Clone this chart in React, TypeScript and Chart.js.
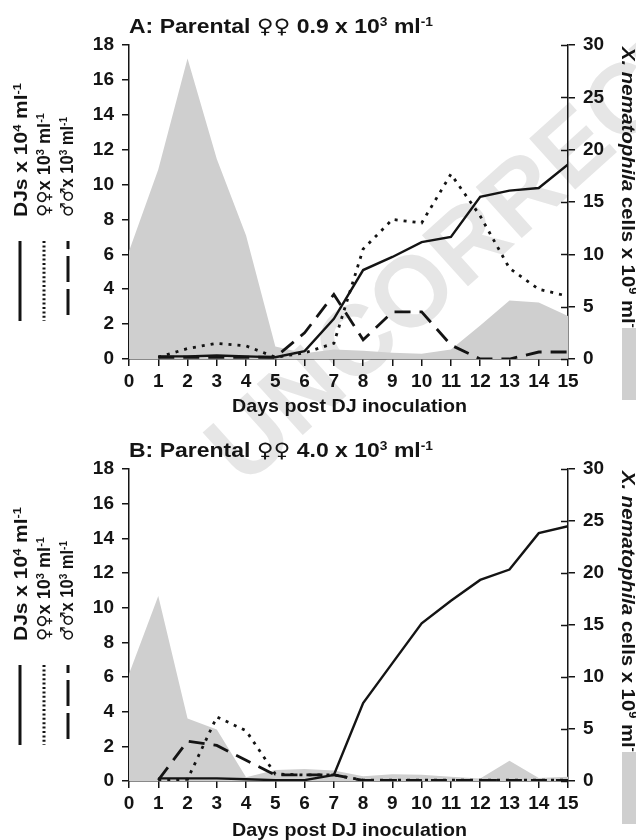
import React, { useEffect, useRef } from "react";
import { Chart, registerables } from "chart.js";

Chart.register(...registerables);

// ---------- data ----------
const days = [0, 1, 2, 3, 4, 5, 6, 7, 8, 9, 10, 11, 12, 13, 14, 15];
const leftTicks = [0, 2, 4, 6, 8, 10, 12, 14, 16, 18];
const rightTicks = [0, 5, 10, 15, 20, 25, 30];

// Panel A: parental females 0.9 x 10^3 ml-1
const aDJs = [null, 0.15, 0.15, 0.2, 0.15, 0.1, 0.45, 2.3, 5.1, 5.85, 6.7, 7.0, 9.3, 9.65, 9.8, 11.15];
const aFemales = [null, 0.1, 0.6, 0.9, 0.75, 0.1, 0.35, 0.9, 6.3, 8.0, 7.8, 10.6, 8.2, 5.2, 4.0, 3.6];
const aMales = [null, 0.1, 0.1, 0.1, 0.1, 0.1, 1.5, 3.7, 1.1, 2.7, 2.7, 0.8, 0, 0, 0.4, 0.4];
const aCells = [10.3, 18.1, 28.7, 19.1, 11.8, 1.2, 0.55, 0.9, 0.8, 0.6, 0.5, 0.9, 3.2, 5.6, 5.4, 4.1];

// Panel B: parental females 4.0 x 10^3 ml-1
const bDJs = [null, 0.15, 0.15, 0.15, 0.1, 0.05, 0.05, 0.35, 4.5, 6.8, 9.1, 10.4, 11.6, 12.2, 14.3, 14.7];
const bFemales = [null, 0.05, 0.1, 3.7, 2.9, 0.4, 0.35, 0.35, 0.05, 0.05, 0.05, 0.05, 0.05, 0.05, 0.05, 0.05];
const bMales = [null, 0.05, 2.3, 2.05, 1.2, 0.35, 0.35, 0.35, 0.03, 0.03, 0.03, 0.03, 0.03, 0.03, 0.03, 0.03];
const bCells = [10.3, 17.8, 6.0, 4.95, 0.35, 1.05, 1.15, 1.0, 0.45, 0.65, 0.6, 0.4, 0.25, 1.95, 0.3, 0.4];

// ---------- styling ----------
const FONT = '"Liberation Sans", Arial, Helvetica, sans-serif';
const SYMFONT = '"DejaVu Sans", sans-serif';
const INK = "#141414";
const AREA = "#cfcfcf";
const WATERMARK = "#e6e6e6";

type Run = { t: string; sup?: boolean; it?: boolean; sym?: boolean };

function runFont(size: number, r: Run) {
  if (r.sym) return `${Math.round(size * 1.0)}px ${SYMFONT}`;
  const s = r.sup ? Math.round(size * 0.62) : size;
  return `${r.it ? "italic " : ""}bold ${s}px ${FONT}`;
}

function measureRuns(ctx: CanvasRenderingContext2D, runs: Run[], size: number) {
  let w = 0;
  for (const r of runs) {
    ctx.font = runFont(size, r);
    w += ctx.measureText(r.t).width;
  }
  return w;
}

function drawRuns(
  ctx: CanvasRenderingContext2D,
  runs: Run[],
  x: number,
  y: number,
  size: number,
  rot: number,
  targetW?: number
) {
  const w = measureRuns(ctx, runs, size);
  const sx = targetW ? targetW / w : 1;
  ctx.save();
  ctx.translate(x, y);
  ctx.rotate(rot);
  ctx.scale(sx, 1);
  ctx.textAlign = "left";
  ctx.textBaseline = "alphabetic";
  ctx.fillStyle = INK;
  let cx = 0;
  for (const r of runs) {
    ctx.font = runFont(size, r);
    ctx.fillText(r.t, cx, r.sup ? -size * 0.36 : 0);
    cx += ctx.measureText(r.t).width;
  }
  ctx.restore();
}

interface Panel {
  letter: string;
  conc: string;
  djs: (number | null)[];
  fem: (number | null)[];
  male: (number | null)[];
  cells: number[];
  top: number;
  height: number;
  plotTop: number;
  plotBottom: number;
}

const panels: Panel[] = [
  { letter: "A", conc: "0.9", djs: aDJs, fem: aFemales, male: aMales, cells: aCells, top: 0, height: 424, plotTop: 45, plotBottom: 359 },
  { letter: "B", conc: "4.0", djs: bDJs, fem: bFemales, male: bMales, cells: bCells, top: 424, height: 416, plotTop: 45, plotBottom: 357 },
];

const toPts = (arr: (number | null)[]) => days.map((d, i) => ({ x: d, y: arr[i] }));

function makeDecor(p: Panel) {
  return {
    id: "decor" + p.letter,
    beforeDraw(chart: any) {
      const ctx: CanvasRenderingContext2D = chart.ctx;
      ctx.save();
      ctx.fillStyle = WATERMARK;
      ctx.font = `bold 100px ${FONT}`;
      const pre = ctx.measureText("UNC").width;
      const wo = ctx.measureText("O").width;
      ctx.translate(410, 290 - p.top);
      ctx.rotate((-42 * Math.PI) / 180);
      ctx.textAlign = "left";
      ctx.textBaseline = "alphabetic";
      ctx.fillText("UNCORRECTED PROOF", -(pre + wo / 2), 36);
      ctx.restore();
    },
    afterDraw(chart: any) {
      const ctx: CanvasRenderingContext2D = chart.ctx;
      const area = chart.chartArea;
      const y2 = chart.scales.y2;

      // inward tick marks on the right axis
      ctx.save();
      ctx.strokeStyle = INK;
      ctx.lineWidth = 1.5;
      for (const v of rightTicks) {
        const py = Math.round(y2.getPixelForValue(v)) + 0.5;
        ctx.beginPath();
        ctx.moveTo(area.right - 7, py);
        ctx.lineTo(area.right, py);
        ctx.stroke();
      }
      ctx.restore();

      // panel title
      drawRuns(
        ctx,
        [
          { t: p.letter + ": Parental " },
          { t: "♀♀", sym: true },
          { t: " " + p.conc + " x 10" },
          { t: "3", sup: true },
          { t: " ml" },
          { t: "-1", sup: true },
        ],
        129,
        33,
        20,
        0,
        304
      );

      // x axis title
      drawRuns(ctx, [{ t: "Days post DJ inoculation" }], 232, 412, 19, 0, 235);

      // left legend labels (rotated)
      const rotL = -Math.PI / 2;
      drawRuns(ctx, [{ t: "DJs x 10" }, { t: "4", sup: true }, { t: " ml" }, { t: "-1", sup: true }], 27, 217, 18, rotL, 134);
      drawRuns(ctx, [{ t: "♀♀", sym: true }, { t: "x 10" }, { t: "3", sup: true }, { t: " ml" }, { t: "-1", sup: true }], 50, 217, 18, rotL, 104);
      drawRuns(ctx, [{ t: "♂♂", sym: true }, { t: "x 10" }, { t: "3", sup: true }, { t: " ml" }, { t: "-1", sup: true }], 73, 217, 18, rotL, 100);

      // legend line samples
      ctx.save();
      ctx.strokeStyle = INK;
      ctx.lineWidth = 3;
      ctx.beginPath();
      ctx.moveTo(20, 241);
      ctx.lineTo(20, 321);
      ctx.stroke();
      ctx.setLineDash([2, 2.4]);
      ctx.beginPath();
      ctx.moveTo(44, 241);
      ctx.lineTo(44, 321);
      ctx.stroke();
      ctx.setLineDash([26, 7]);
      ctx.lineDashOffset = 18;
      ctx.beginPath();
      ctx.moveTo(68, 241);
      ctx.lineTo(68, 321);
      ctx.stroke();
      ctx.restore();

      // right axis title (rotated clockwise)
      drawRuns(
        ctx,
        [
          { t: "X. nematophila", it: true },
          { t: " cells x 10" },
          { t: "9", sup: true },
          { t: " ml" },
          { t: "-1", sup: true },
        ],
        622,
        47,
        19,
        Math.PI / 2,
        288
      );

      // grey legend swatch
      ctx.save();
      ctx.fillStyle = AREA;
      ctx.fillRect(622, 328, 14, 72);
      ctx.restore();
    },
  };
}

function PanelChart({ p }: { p: Panel }) {
  const ref = useRef<HTMLCanvasElement | null>(null);

  useEffect(() => {
    if (!ref.current) return;
    const tickFont = { family: FONT, size: 19, weight: "bold" as const };
    const chart = new Chart(ref.current, {
      type: "line",
      data: {
        datasets: [
          {
            label: "DJs",
            data: toPts(p.djs),
            yAxisID: "y",
            borderColor: INK,
            borderWidth: 2.4,
            pointRadius: 0,
            tension: 0,
            fill: false,
            order: 0,
          },
          {
            label: "females",
            data: toPts(p.fem),
            yAxisID: "y",
            borderColor: INK,
            borderWidth: 2.8,
            borderDash: [3, 6],
            pointRadius: 0,
            tension: 0,
            fill: false,
            order: 1,
          },
          {
            label: "males",
            data: toPts(p.male),
            yAxisID: "y",
            borderColor: INK,
            borderWidth: 2.8,
            borderDash: [16, 9],
            pointRadius: 0,
            tension: 0,
            fill: false,
            order: 2,
          },
          {
            label: "X. nematophila",
            data: toPts(p.cells),
            yAxisID: "y2",
            borderColor: "rgba(0,0,0,0)",
            borderWidth: 0,
            backgroundColor: AREA,
            pointRadius: 0,
            tension: 0,
            fill: "origin",
            order: 10,
          },
        ] as any,
      },
      options: {
        animation: false,
        responsive: false,
        maintainAspectRatio: false,
        devicePixelRatio: 1,
        events: [],
        layout: { padding: { top: p.plotTop, left: 0, right: 0, bottom: 0 } },
        plugins: {
          legend: { display: false },
          tooltip: { enabled: false },
          title: { display: false },
        },
        scales: {
          x: {
            type: "linear",
            min: 0,
            max: 15,
            afterBuildTicks: (s: any) => {
              s.ticks = days.map((v) => ({ value: v }));
            },
            afterFit: (s: any) => {
              s.height = p.height - p.plotBottom;
            },
            ticks: { color: INK, font: tickFont, padding: 4, autoSkip: false, maxRotation: 0, minRotation: 0 },
            grid: { drawOnChartArea: false, drawTicks: true, tickLength: 7, color: INK, lineWidth: 1.5 },
            border: { color: INK, width: 1.5 },
          },
          y: {
            type: "linear",
            position: "left",
            min: 0,
            max: 18,
            afterBuildTicks: (s: any) => {
              s.ticks = leftTicks.map((v) => ({ value: v }));
            },
            afterFit: (s: any) => {
              s.width = 129;
            },
            ticks: { color: INK, font: tickFont, padding: 8 },
            grid: { drawOnChartArea: false, drawTicks: true, tickLength: 7, color: INK, lineWidth: 1.5 },
            border: { color: INK, width: 1.5 },
          },
          y2: {
            type: "linear",
            position: "right",
            min: 0,
            max: 30,
            afterBuildTicks: (s: any) => {
              s.ticks = rightTicks.map((v) => ({ value: v }));
            },
            afterFit: (s: any) => {
              s.width = 68;
            },
            ticks: { color: INK, font: tickFont, padding: 8 },
            grid: { drawOnChartArea: false, drawTicks: true, tickLength: 7, color: INK, lineWidth: 1.5 },
            border: { color: INK, width: 1.5 },
          },
        },
      } as any,
      plugins: [makeDecor(p)],
    });
    return () => chart.destroy();
  }, [p]);

  return (
    <canvas
      ref={ref}
      width={636}
      height={p.height}
      style={{ position: "absolute", left: 0, top: p.top, width: 636, height: p.height, display: "block" }}
    />
  );
}

export default function App() {
  return (
    <div style={{ position: "absolute", left: 0, top: 0, width: 636, height: 840, background: "#fff", overflow: "hidden" }}>
      {panels.map((p) => (
        <PanelChart key={p.letter} p={p} />
      ))}
    </div>
  );
}
